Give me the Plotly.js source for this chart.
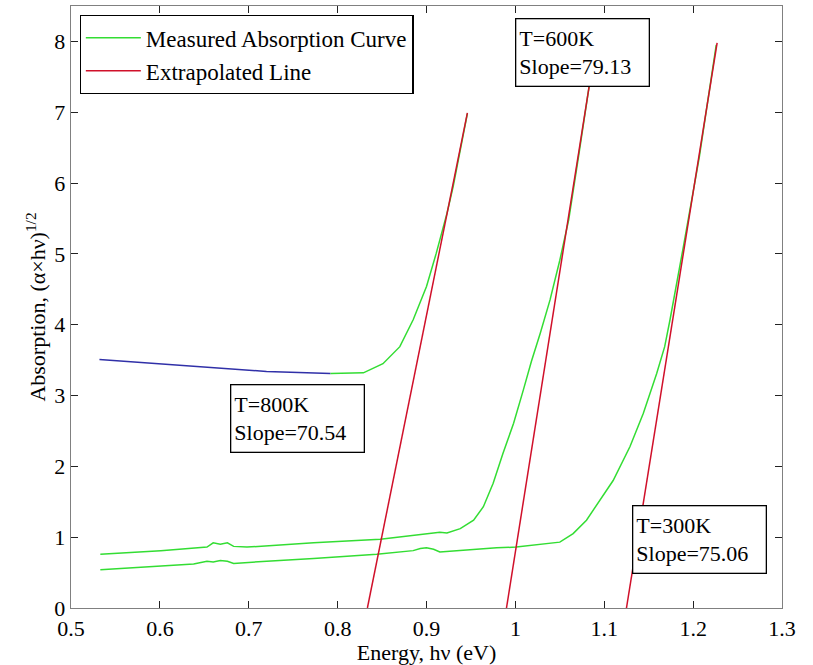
<!DOCTYPE html>
<html>
<head>
<meta charset="utf-8">
<script src="https://cdn.plot.ly/plotly-3.0.1.min.js"></script>
<style>html,body{margin:0;padding:0;background:#fff;}#chart{width:813px;height:665px;}</style>
</head>
<body>
<div id="chart"></div>
<script>
// 800K measured curve: flat (blue) part and rising (green) part
const e800Flat = [0.532, 0.586, 0.660, 0.720, 0.792];
const a800Flat = [3.51, 3.46, 3.39, 3.34, 3.31];
const e800 = [0.792, 0.829, 0.851, 0.870, 0.885, 0.900, 0.911, 0.923, 0.930, 0.938, 0.946];
const a800 = [3.31, 3.32, 3.45, 3.69, 4.07, 4.54, 5.01, 5.57, 5.95, 6.45, 6.98];
// 600K measured curve
const e600 = [0.533, 0.601, 0.653, 0.660, 0.668, 0.676, 0.683, 0.698, 0.773, 0.848, 0.915, 0.923, 0.938, 0.953, 0.964, 0.975, 0.986, 0.998, 1.009, 1.018, 1.028, 1.039, 1.050, 1.060, 1.072, 1.084];
const a600 = [0.76, 0.81, 0.86, 0.92, 0.90, 0.92, 0.87, 0.86, 0.92, 0.97, 1.07, 1.06, 1.12, 1.24, 1.43, 1.76, 2.18, 2.61, 3.08, 3.48, 3.88, 4.35, 4.91, 5.48, 6.45, 7.45];
// 300K measured curve
const e300 = [0.533, 0.578, 0.638, 0.653, 0.660, 0.668, 0.676, 0.683, 0.698, 0.773, 0.844, 0.885, 0.893, 0.900, 0.908, 0.915, 0.979, 1.001, 1.050, 1.065, 1.080, 1.095, 1.110, 1.129, 1.144, 1.159, 1.168, 1.174, 1.179, 1.189, 1.207, 1.226];
const a300 = [0.54, 0.57, 0.62, 0.66, 0.65, 0.67, 0.66, 0.63, 0.64, 0.70, 0.76, 0.81, 0.84, 0.85, 0.83, 0.79, 0.85, 0.86, 0.93, 1.05, 1.24, 1.52, 1.80, 2.28, 2.75, 3.31, 3.69, 4.07, 4.40, 5.10, 6.37, 7.95];
// Extrapolated lines
const fit800E = [0.8335, 0.946];
const fit800A = [0, 6.99];
const fit600E = [0.990, 1.0845];
const fit600A = [0, 7.48];
const fit300E = [1.125, 1.227];
const fit300A = [0, 7.98];
// Labels
const boxLabels = ["T=600K<br>Slope=79.13", "T=800K<br>Slope=70.54", "T=300K<br>Slope=75.06"];
const boxX = [1.0758, 0.755, 1.207];
const boxY = [7.84, 2.68, 0.968];

const GREEN = '#33dd33', RED = '#d0102a', BLUE = '#3030a8';
const FONT = 'Liberation Serif';

const traces = [
  {x: e800Flat, y: a800Flat, mode: 'lines', line: {color: BLUE, width: 1.5}, showlegend: false},
  {x: e800, y: a800, mode: 'lines', line: {color: GREEN, width: 1.5}, name: 'Measured Absorption Curve', legendgroup: 'm'},
  {x: e600, y: a600, mode: 'lines', line: {color: GREEN, width: 1.5}, showlegend: false, legendgroup: 'm'},
  {x: e300, y: a300, mode: 'lines', line: {color: GREEN, width: 1.5}, showlegend: false, legendgroup: 'm'},
  {x: fit800E, y: fit800A, mode: 'lines', line: {color: RED, width: 1.5}, name: 'Extrapolated Line', legendgroup: 'f'},
  {x: fit600E, y: fit600A, mode: 'lines', line: {color: RED, width: 1.5}, showlegend: false, legendgroup: 'f'},
  {x: fit300E, y: fit300A, mode: 'lines', line: {color: RED, width: 1.5}, showlegend: false, legendgroup: 'f'}
];

const annotations = boxLabels.map((t, i) => ({
  x: boxX[i], y: boxY[i], xref: 'x', yref: 'y', text: t, showarrow: false,
  xanchor: 'center', yanchor: 'middle', align: 'left',
  width: 126, height: 60, borderpad: 3, bordercolor: '#000', borderwidth: 1.3,
  bgcolor: '#fff', font: {family: FONT, size: 22, color: '#000'}
}));

const layout = {
  width: 813, height: 665,
  margin: {l: 71, r: 31, t: 6, b: 57},
  paper_bgcolor: '#fff', plot_bgcolor: '#fff',
  font: {family: FONT, size: 21, color: '#000'},
  xaxis: {
    range: [0.5, 1.3], dtick: 0.1, tick0: 0.5, ticks: 'inside', ticklen: 7, tickcolor: '#222',
    showline: true, linecolor: '#808080', linewidth: 1.3, mirror: 'allticks',
    showgrid: false, zeroline: false,
    tickfont: {family: FONT, size: 22},
    title: {text: 'Energy, hν (eV)', font: {family: FONT, size: 22}, standoff: 0}
  },
  yaxis: {
    range: [0, 8.5], dtick: 1, tick0: 0, ticks: 'inside', ticklen: 7, tickcolor: '#222',
    showline: true, linecolor: '#808080', linewidth: 1.3, mirror: 'allticks',
    showgrid: false, zeroline: false,
    tickfont: {family: FONT, size: 22},
    title: {text: 'Absorption, (α×hν)<sup>1/2</sup>', font: {family: FONT, size: 22}, standoff: 2}
  },
  showlegend: true,
  legend: {
    x: 0.012, y: 0.985, xanchor: 'left', yanchor: 'top',
    bgcolor: '#fff', bordercolor: '#000', borderwidth: 1.3,
    font: {family: FONT, size: 23, color: '#000'},
    tracegroupgap: 0, itemwidth: 55
  },
  annotations: annotations
};

Plotly.newPlot('chart', traces, layout, {displayModeBar: false, staticPlot: true});
</script>
</body>
</html>
